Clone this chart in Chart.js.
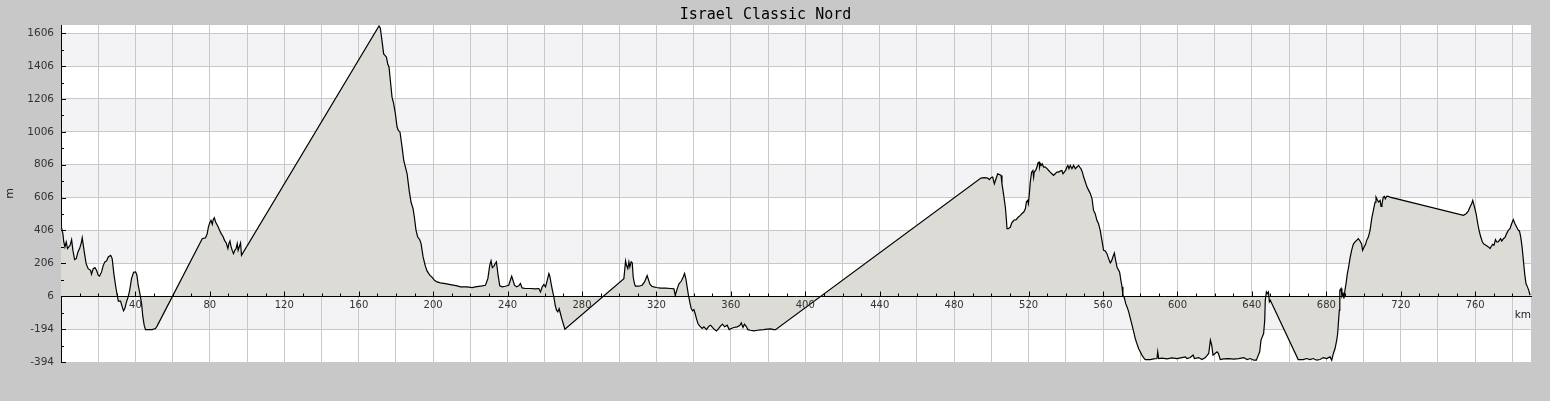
<!DOCTYPE html>
<html><head><meta charset="utf-8">
<script src="https://cdn.jsdelivr.net/npm/chart.js@4/dist/chart.umd.min.js"></script>
<style>html,body{margin:0;padding:0;background:#c8c8c8;overflow:hidden}canvas{display:block}</style>
</head><body>
<canvas id="c" width="1550" height="401"></canvas>
<script>
const titleText = 'Israel Classic Nord';
const xUnit = 'km';
const yUnit = 'm';
const axisBase = 6;

const distKm = [
0,1.0,1.5,2.1,2.8,3.5,4.2,4.9,5.7,6.4,7.3,8.2,9.1,10.0,10.9,11.4,12.1,12.8,13.5,14.6,15.9,16.4,17.3,18.2,19.1,20.0,20.7,21.8,22.7,23.6,24.5,25.4,26.7,27.5,28.4,29.3,30.2,30.8,32.0,32.9,33.6,34.3,35.2,36.1,36.9,37.9,39.0,40.1,40.8,41.5,42.4,43.3,44.0,44.7,45.4,47.2,49.0,50.8,51.7,
75.9,77.7,78.6,79.2,79.9,80.6,81.3,81.8,82.4,83.1,83.8,84.5,85.2,86.1,87.0,87.9,88.8,89.7,90.2,90.8,91.3,92.0,92.7,93.4,94.1,94.7,95.2,95.9,96.5,97.0,
170.9,171.6,172.5,173.4,174.2,174.9,175.6,176.3,177.0,177.9,178.8,179.7,180.6,181.3,182.2,183.3,184.2,185.1,186.0,187.1,188.1,189.2,189.9,190.8,191.7,192.8,193.5,194.6,195.7,196.7,198.2,199.6,200.7,202.1,203.9,206.6,209.3,212.9,214.7,218.2,220.9,222.7,226.3,228.1,229.4,230.4,231.1,231.8,232.6,233.3,234.0,234.9,235.8,237.1,238.8,240.6,241.5,242.2,242.9,243.7,244.8,246.0,246.9,247.8,249.6,252.3,255.0,256.8,257.7,258.6,259.5,260.4,261.3,262.2,262.7,263.4,264.1,264.8,265.6,266.3,267.0,267.7,268.4,269.1,269.9,270.8,
302.5,303.4,303.9,304.6,305.2,305.7,306.4,307.0,307.5,308.2,308.7,310.5,312.3,313.6,314.3,315.0,315.7,316.5,317.5,318.6,320.0,322.2,324.9,327.6,329.4,330.1,330.8,331.5,332.2,333.3,334.4,335.1,335.8,336.5,337.2,338.0,338.7,339.4,340.1,340.8,341.5,342.3,343.3,344.6,345.5,346.9,348.2,349.1,350.1,351.2,352.3,353.5,354.4,355.5,356.6,358.0,359.1,360.2,361.6,363.4,364.8,365.6,366.5,367.3,368.4,369.1,370.6,372.4,374.2,375.9,377.7,379.5,381.3,383.1,384.0,
494.4,496.2,498.0,498.9,499.8,500.7,501.6,502.5,503.4,504.3,505.2,505.7,506.5,507.0,507.5,508.1,508.4,509.1,510.2,510.9,512.0,513.3,514.5,515.6,516.3,517.4,518.3,518.8,519.5,519.9,520.4,520.9,521.6,522.3,522.7,523.0,523.8,524.5,525.0,525.6,525.9,526.3,526.8,527.3,528.1,529.0,529.9,530.8,531.6,532.5,533.4,534.3,535.2,536.1,537.0,537.9,538.5,539.2,539.9,540.6,541.1,541.7,542.4,543.3,544.2,545.1,546.0,546.9,547.4,548.1,548.9,549.6,550.5,551.4,552.3,553.2,554.1,554.9,555.8,556.7,557.6,558.5,559.4,560.3,561.2,562.1,563.0,563.9,564.6,565.3,566.1,566.6,567.5,568.2,568.9,569.6,570.2,570.7,571.4,572.2,572.9,573.8,574.7,575.6,576.5,577.3,578.2,579.1,580.0,580.9,581.8,582.7,583.6,585.4,587.2,589.0,589.4,589.9,591.7,594.4,597.1,599.7,602.4,604.2,605.1,606.9,608.4,609.1,611.4,613.2,615.0,616.8,617.7,618.4,619.1,620.2,621.3,622.0,623.0,624.8,627.5,630.2,632.9,635.6,637.4,639.2,641.0,642.4,643.1,644.2,644.9,645.6,646.3,646.9,647.2,647.8,648.3,648.9,649.4,649.9,
664.9,667.6,669.4,671.2,673.0,674.8,676.6,678.4,680.2,682.0,682.9,683.8,684.7,685.6,686.1,686.6,687.0,687.2,687.3,687.9,688.4,689.0,689.5,690.0,690.6,691.3,692.0,692.7,693.6,694.5,695.4,696.3,697.2,698.1,699.0,699.5,700.3,701.1,701.7,702.6,703.5,704.4,705.3,706.2,706.7,707.4,708.1,708.9,709.4,709.9,710.6,711.2,711.7,712.4,713.3,714.2,
753.7,755.1,756.3,757.2,758.1,758.7,759.4,760.5,761.4,762.1,763.0,763.9,764.8,765.8,767.1,768.0,768.7,769.4,770.1,770.9,771.6,772.3,773.0,773.7,774.3,775.2,776.1,776.9,777.8,778.7,779.6,780.5,781.4,782.3,783.2,783.8,784.5,785.2,785.9,786.6,787.3,788.1,788.8,789.5
];

const elevM = [
437,387,336,306,336,296,306,316,350,285,229,235,275,296,330,362,306,255,204,174,164,140,174,180,164,134,128,154,194,215,221,245,255,235,144,73,12,-24,-24,-59,-83,-69,-28,2,42,113,152,154,134,73,22,-39,-120,-170,-197,-197,-197,-190,-174,
356,362,387,427,451,468,443,472,484,458,443,427,407,387,371,346,330,296,326,342,312,285,265,285,296,326,285,310,330,255,
1650,1638,1561,1480,1470,1460,1419,1399,1318,1217,1176,1116,1035,1014,1004,913,832,792,751,650,579,539,488,407,366,350,326,245,194,160,134,119,103,93,87,83,77,69,63,63,59,63,69,73,113,194,221,180,188,204,215,134,69,63,67,73,103,128,103,73,63,69,83,57,53,53,51,53,32,63,77,63,103,144,128,83,42,6,-49,-79,-89,-69,-99,-130,-160,-194,
113,221,194,174,215,184,215,209,123,83,67,67,73,93,113,132,107,79,67,63,59,55,55,53,51,12,38,63,83,97,123,144,113,63,12,-34,-69,-83,-75,-99,-130,-160,-176,-190,-180,-197,-176,-170,-184,-197,-205,-190,-176,-164,-180,-170,-197,-190,-184,-180,-172,-156,-184,-164,-180,-197,-201,-205,-201,-199,-197,-194,-192,-197,-197,
725,727,725,715,727,731,690,721,751,747,741,690,630,589,549,468,417,417,427,451,468,472,488,498,508,518,539,579,589,569,630,700,761,771,731,761,771,792,816,822,792,812,802,812,792,792,782,771,761,751,741,751,761,761,767,771,751,761,771,792,802,782,802,782,802,782,792,802,792,782,761,731,701,670,650,630,599,528,508,468,447,407,346,285,281,265,235,209,221,245,269,235,184,168,154,103,63,12,-2,-39,-59,-89,-130,-170,-211,-251,-282,-312,-332,-352,-367,-379,-379,-379,-375,-373,-332,-373,-371,-375,-369,-373,-367,-363,-373,-367,-352,-373,-367,-379,-367,-342,-261,-292,-352,-342,-332,-342,-379,-375,-373,-377,-373,-367,-379,-373,-383,-383,-363,-332,-261,-241,-221,-140,-18,32,22,32,-28,-18,
-379,-379,-373,-379,-373,-383,-379,-367,-373,-363,-383,-342,-312,-261,-221,-140,-79,-8,42,53,6,22,-8,42,83,144,184,235,285,322,336,346,356,342,322,285,306,322,346,366,407,478,528,579,609,593,579,589,553,565,609,613,599,613,613,609,
498,508,524,549,569,589,559,508,447,407,366,336,322,316,306,296,310,322,316,350,336,336,346,356,342,356,366,387,407,417,447,472,447,427,407,403,366,306,225,144,83,63,42,12
];

const yTickValues = [-394,-194,6,206,406,606,806,1006,1206,1406,1606];
const yMinorTickValues = [-294,-94,106,306,506,706,906,1106,1306,1506];
const xGridValues = [0,20,40,60,80,100,120,140,160,180,200,220,240,260,280,300,320,340,360,380,400,420,440,460,480,500,520,540,560,580,600,620,640,660,680,700,720,740,760,780];
const xLabelValues = [40,80,120,160,200,240,280,320,360,400,440,480,520,560,600,640,680,720,760];
const xMinorTickValues = [10,20,30,40,50,60,70,80,90,100,110,120,130,140,150,160,170,180,190,200,210,220,230,240,250,260,270,280,290,300,310,320,330,340,350,360,370,380,390,400,410,420,430,440,450,460,470,480,490,500,510,520,530,540,550,560,570,580,590,600,610,620,630,640,650,660,670,680,690,700,710,720,730,740,750,760,770,780];
const shadedBands = [[-194,6],[206,406],[606,806],[1006,1206],[1406,1606]];

const decor = {
  id: 'decor',
  beforeDraw(chart) {
    const {ctx, chartArea: a, scales: {y}} = chart;
    ctx.save();
    ctx.fillStyle = '#c8c8c8';
    ctx.fillRect(0, 0, chart.width, chart.height);
    ctx.fillStyle = '#ffffff';
    ctx.fillRect(a.left, a.top, a.right - a.left, a.bottom - a.top);
    ctx.fillStyle = '#f3f2f5';
    shadedBands.forEach(([lo, hi]) => {
      const t = y.getPixelForValue(hi), b = y.getPixelForValue(lo);
      ctx.fillRect(a.left, t, a.right - a.left, b - t);
    });
    ctx.restore();
  },
  afterDatasetsDraw(chart) {
    const {ctx, chartArea: a, scales: {x, y}} = chart;
    ctx.save();
    ctx.strokeStyle = '#000';
    ctx.lineWidth = 1;
    const y0 = Math.round(y.getPixelForValue(axisBase)) + 0.5;
    ctx.beginPath();
    xMinorTickValues.forEach(v => {
      const px = Math.round(x.getPixelForValue(v)) + 0.5;
      const len = xLabelValues.includes(v) ? 5 : 3;
      ctx.moveTo(px, y0); ctx.lineTo(px, y0 - len);
    });
    yTickValues.forEach(v => {
      const py = Math.round(y.getPixelForValue(v)) + 0.5;
      ctx.moveTo(a.left, py); ctx.lineTo(a.left + 5, py);
    });
    yMinorTickValues.forEach(v => {
      const py = Math.round(y.getPixelForValue(v)) + 0.5;
      ctx.moveTo(a.left, py); ctx.lineTo(a.left + 3, py);
    });
    ctx.stroke();
    ctx.restore();
  }
};

new Chart(document.getElementById('c'), {
  type: 'line',
  data: {
    datasets: [{
      data: distKm.map((d, i) => ({x: d, y: elevM[i]})),
      borderColor: '#000',
      borderWidth: 1.2,
      backgroundColor: '#dcdbd6',
      fill: {value: axisBase},
      pointRadius: 0,
      tension: 0
    }]
  },
  options: {
    responsive: false,
    devicePixelRatio: 1,
    animation: false,
    layout: {padding: {left: 0, right: 19, top: 0, bottom: 39}},
    plugins: {
      legend: {display: false},
      tooltip: {enabled: false},
      title: {
        display: true, text: titleText, color: '#000',
        font: {family: 'DejaVu Sans Mono', size: 15, weight: 'normal', lineHeight: 1.2},
        padding: {top: 6, bottom: 1}
      }
    },
    scales: {
      x: {
        type: 'linear', position: {y: axisBase}, min: 0, max: 790,
        afterBuildTicks: s => { s.ticks = xGridValues.map(v => ({value: v})); },
        grid: {color: '#c8c8c8', drawTicks: false, lineWidth: 1},
        border: {display: true, color: '#000', width: 1, z: 1},
        ticks: {
          z: 1, color: '#333', font: {family: 'DejaVu Sans', size: 10}, padding: 3,
          maxRotation: 0, autoSkip: false,
          callback: v => xLabelValues.includes(v) ? String(v) : ''
        },
        title: {display: true, text: xUnit, align: 'end', color: '#222',
          font: {family: 'DejaVu Sans', size: 10.5}, padding: {top: -5, bottom: 0}}
      },
      y: {
        min: -394, max: 1656,
        afterBuildTicks: s => { s.ticks = yTickValues.map(v => ({value: v})); },
        afterFit: s => { s.width = 61; },
        grid: {color: '#c8c8c8', drawTicks: false},
        border: {display: true, color: '#000', width: 1},
        ticks: {color: '#333', font: {family: 'DejaVu Sans', size: 10.5}, padding: 7, autoSkip: false,
          callback: v => String(v)},
        title: {display: true, text: yUnit, color: '#222',
          font: {family: 'DejaVu Sans', size: 11}, padding: {top: 4, bottom: 0}}
      }
    }
  },
  plugins: [decor]
});
</script>
</body></html>
